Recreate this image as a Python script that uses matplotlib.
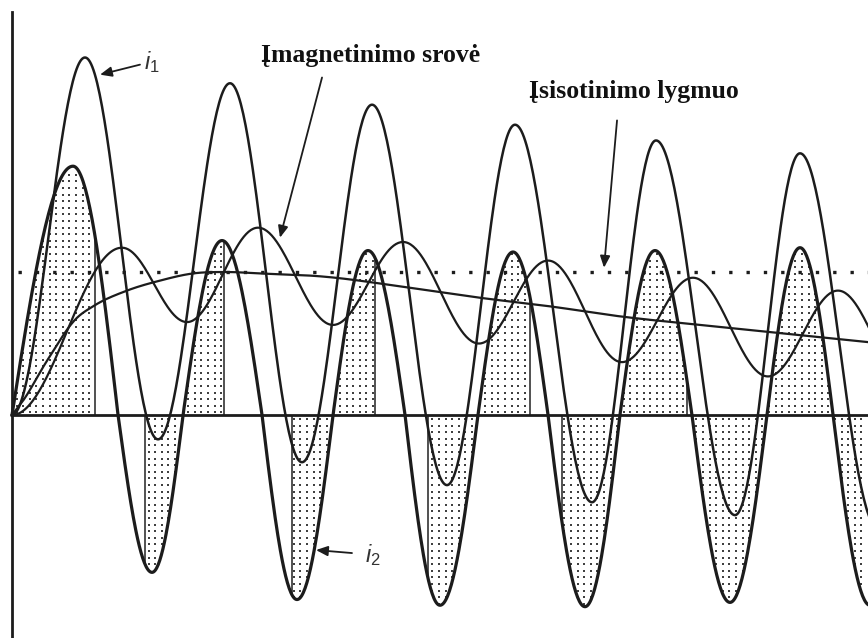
import numpy as np
import matplotlib.pyplot as plt
from matplotlib.path import Path

plt.rcParams['mathtext.fontset'] = 'custom'
plt.rcParams['mathtext.it'] = 'Liberation Sans:italic'
plt.rcParams['mathtext.rm'] = 'Liberation Sans'

# time in ms, current in units of the saturation level
# i1 - extremes of the offset current
i1_t = [0.0, 10.21, 20.42, 30.49, 40.56, 50.35, 60.84, 70.35, 81.12, 90.07, 101.12, 110.21, 121.1]
i1_v = [0.0, 2.50, -0.17, 2.32, -0.33, 2.17, -0.49, 2.03, -0.61, 1.92, -0.70, 1.83, -0.79]

# i2 - zero crossings alternate with lobe extremes
i2_t = [0.0, 8.53, 14.83, 19.58, 23.92, 29.37, 34.97, 39.86, 44.90, 49.79, 54.97, 59.86,
        65.17, 70.07, 74.97, 80.14, 85.03, 89.93, 95.10, 100.42, 105.59, 110.21, 114.83, 120.0, 125.0]
i2_v = [0.0, 1.74, 0.0, -1.10, 0.0, 1.22, 0.0, -1.29, 0.0, 1.15, 0.0, -1.33,
        0.0, 1.14, 0.0, -1.34, 0.0, 1.15, 0.0, -1.31, 0.0, 1.17, 0.0, -1.33, 0.0]

# magnetizing current - extremes
mag_t = [0.0, 15.38, 24.48, 34.41, 44.90, 54.69, 65.31, 74.97, 85.31, 95.24, 105.73, 115.52, 125.9]
mag_v = [0.0, 1.17, 0.65, 1.31, 0.63, 1.21, 0.50, 1.08, 0.37, 0.96, 0.27, 0.87, 0.17]

# slowly varying (dc) component
dc_t = [0.0, 1.54, 4.90, 9.09, 11.33, 16.08, 20.70, 25.31, 30.07, 34.69, 43.08, 55.66,
        65.45, 75.24, 85.03, 96.22, 119.72]
dc_v = [0.0, 0.10, 0.38, 0.68, 0.76, 0.87, 0.94, 0.99, 1.00, 0.99, 0.97, 0.89,
        0.82, 0.76, 0.69, 0.63, 0.51]

sat_level = 1.0

# intervals of i2 that are shaded
shade_from = [0.0, 18.60, 39.16, 58.18, 76.92, 95.10]
shade_to = [11.61, 29.65, 50.77, 72.45, 94.41, 125.0]

INK = '#1c1c1c'


def swing(tk, vk, n=60):
    # half-cosine between neighbouring extremes
    ts, vs = [], []
    for a, b, va, vb in zip(tk[:-1], tk[1:], vk[:-1], vk[1:]):
        s = np.linspace(0, 1, n, endpoint=False)
        ts.append(a + (b - a) * s)
        vs.append(va + (vb - va) * (1 - np.cos(np.pi * s)) / 2)
    ts.append([tk[-1]])
    vs.append([vk[-1]])
    return np.concatenate(ts), np.concatenate(vs)


def quarter_waves(tk, vk, n=40):
    # quarter sine from a zero crossing to an extreme and back
    ts, vs = [], []
    for a, b, va, vb in zip(tk[:-1], tk[1:], vk[:-1], vk[1:]):
        s = np.linspace(0, 1, n, endpoint=False)
        ts.append(a + (b - a) * s)
        if va == 0:
            vs.append(vb * np.sin(np.pi / 2 * s))
        else:
            vs.append(va * np.cos(np.pi / 2 * s))
    ts.append([tk[-1]])
    vs.append([vk[-1]])
    return np.concatenate(ts), np.concatenate(vs)


def smooth(tk, vk, n=30):
    # cubic hermite through the points
    tk, vk = np.asarray(tk), np.asarray(vk)
    m = np.gradient(vk, tk)
    ts, vs = [], []
    for k in range(len(tk) - 1):
        h = tk[k + 1] - tk[k]
        s = np.linspace(0, 1, n, endpoint=False)
        h00 = 2 * s**3 - 3 * s**2 + 1
        h10 = s**3 - 2 * s**2 + s
        h01 = -2 * s**3 + 3 * s**2
        h11 = s**3 - s**2
        ts.append(tk[k] + h * s)
        vs.append(h00 * vk[k] + h10 * h * m[k] + h01 * vk[k + 1] + h11 * h * m[k + 1])
    ts.append([tk[-1]])
    vs.append([vk[-1]])
    return np.concatenate(ts), np.concatenate(vs)


t1, y1 = swing(i1_t, i1_v)
t2, y2 = quarter_waves(i2_t, i2_v)
tm, ym = swing(mag_t, mag_v)
td, yd = smooth(dc_t, dc_v)

fig = plt.figure(figsize=(8.68, 6.38), dpi=100)
ax = fig.add_axes([0, 0, 1, 1])
ax.set_xlim(-1.678, 119.72)
ax.set_ylim(-1.559, 2.902)

# stippled areas: dot grid clipped to the i2 regions
paths = []
for a, b in zip(shade_from, shade_to):
    m = (t2 >= a) & (t2 <= b)
    poly = ax.fill_between(t2, y2, 0, where=m, facecolor='none', edgecolor='none')
    paths.extend(poly.get_paths())
clip = Path.make_compound_path(*paths)

gx, gy = np.meshgrid(np.arange(0.004, 1, 6.6 / 868), np.arange(0.002, 1, 6.6 / 638))
dots = ax.scatter(gx.ravel(), gy.ravel(), s=2.4, marker='s', color='#404040',
                  linewidths=0, transform=ax.transAxes, zorder=1)
dots.set_clip_path(clip, ax.transData)

# vertical edges of the shaded intervals
edges = [e for e in shade_from + shade_to if 0 < e < 119]
edges = [e for e in edges if abs(np.interp(e, t2, y2)) > 0.05]
ax.vlines(edges, 0, np.interp(edges, t2, y2), color='#333333', lw=1.2, zorder=2)

ax.hlines(sat_level, 0.8, 119.72, color=INK, lw=2.4, ls=(0, (1, 4.2)), zorder=2)
ax.plot(td, yd, color=INK, lw=1.6, zorder=3)
ax.plot(tm, ym, color=INK, lw=1.6, zorder=3)
ax.plot(t1, y1, color=INK, lw=1.8, zorder=4)
ax.plot(t2, y2, color=INK, lw=2.3, zorder=4)

# axes through the origin
for side in ['top', 'right']:
    ax.spines[side].set_visible(False)
ax.spines['left'].set_position(('data', 0))
ax.spines['left'].set_bounds(-1.56, 2.82)
ax.spines['bottom'].set_position(('data', 0))
ax.spines['bottom'].set_bounds(0, 119.72)
for side in ['left', 'bottom']:
    ax.spines[side].set_linewidth(2.0)
    ax.spines[side].set_color(INK)
ax.set_xticks([])
ax.set_yticks([])
ax.patch.set_alpha(0)

arrow = dict(arrowstyle='-|>,head_length=0.7,head_width=0.3', color=INK, lw=1.3,
             shrinkA=0, shrinkB=0)
ax.annotate('', xy=(12.31, 2.38), xytext=(17.9, 2.45), arrowprops=arrow)
ax.annotate('', xy=(42.52, -0.944), xytext=(47.55, -0.965), arrowprops=arrow)
ax.annotate('', xy=(37.48, 1.24), xytext=(43.36, 2.36), arrowprops=arrow)
ax.annotate('', xy=(82.80, 1.03), xytext=(84.62, 2.06), arrowprops=arrow)

ax.text(18.4, 2.47, r'$i_1$', fontsize=17, color='#333333', va='center', ha='left')
ax.text(49.4, -0.98, r'$i_2$', fontsize=17, color='#333333', va='center', ha='left')

ax.text(50.2, 2.469, 'Įmagnetinimo srovė', family='Liberation Serif', weight='bold',
        fontsize=18.5, color='#111111', ha='center', va='baseline')
ax.text(87.0, 2.217, 'Įsisotinimo lygmuo', family='Liberation Serif', weight='bold',
        fontsize=18.5, color='#111111', ha='center', va='baseline')

fig.savefig('out.png', dpi=100, facecolor='white')
